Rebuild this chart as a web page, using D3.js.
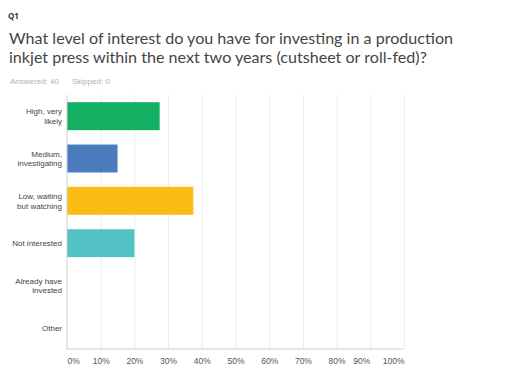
<!DOCTYPE html>
<html>
<head>
<meta charset="utf-8">
<script src="https://cdn.jsdelivr.net/npm/d3@7"></script>
<style>
  body { margin: 0; background: #fff; }
  svg text { font-family: "Liberation Sans", Arial, sans-serif; }
  .grid line { stroke: #ececec; stroke-width: 1px; }
  .grid .domain { display: none; }
  .x-axis .domain, .x-axis line { display: none; }
  .x-axis text { fill: #555; font-size: 8.5px; font-family: "Liberation Sans", Arial, sans-serif; }
</style>
</head>
<body>
<svg id="chart"></svg>
<script>
// data
var categories = ["High, very likely", "Medium, investigating", "Low, waiting but watching",
    "Not interested", "Already have invested", "Other"];
var labelLines = [["High, very", "likely"], ["Medium,", "investigating"], ["Low, waiting", "but watching"],
    ["Not interested"], ["Already have", "invested"], ["Other"]];
var values = [27.5, 15, 37.5, 20, 0, 0];
var colors = ["#13b064", "#4a7bbd", "#fbbd14", "#54c3c8", "#a77fc1", "#f0795b"];
var tickValues = [0, 10, 20, 30, 40, 50, 60, 70, 80, 90, 100];
var titleLines = ["What level of interest do you have for investing in a production",
    "inkjet press within the next two years (cutsheet or roll-fed)?"];

var W = 530, H = 375;
var margin = { left: 67, right: 126, top: 95, bottom: 26 },
    width = W - margin.left - margin.right,
    height = H - margin.top - margin.bottom;

var svg = d3.select("#chart").attr("width", W).attr("height", H);

// header
svg.append("text").attr("x", 8).attr("y", 19)
    .style("font-size", "8px").style("font-weight", "bold").attr("fill", "#333")
    .style("font-family", "'Open Sans', sans-serif")
    .text("Q1");
svg.selectAll(".title").data(titleLines).enter().append("text")
    .attr("class", "title")
    .attr("x", 9).attr("y", function(d, i) { return 44 + i * 19; })
    .style("font-size", "16.1px").attr("fill", "#454545")
    .style("font-family", "Lato, sans-serif")
    .text(function(d) { return d; });
svg.append("text").attr("x", 10).attr("y", 84)
    .style("font-size", "8px").attr("fill", "#b0b0b0")
    .text("Answered: 40");
svg.append("text").attr("x", 72).attr("y", 84)
    .style("font-size", "8px").attr("fill", "#b0b0b0")
    .text("Skipped: 0");

var g = svg.append("g").attr("transform", "translate(" + margin.left + "," + margin.top + ")");

// scales
var x = d3.scaleLinear().domain([0, 100]).range([0, width]);
var y = d3.scaleBand().domain(categories).range([0, height]).paddingInner(0.34).paddingOuter(0.17);

// gridlines
g.append("g").attr("class", "grid")
    .call(d3.axisBottom(x).tickValues(tickValues.slice(1)).tickSize(height).tickFormat(""));

// bars
g.selectAll(".bar").data(values).enter().append("rect")
    .attr("class", "bar")
    .attr("x", 0)
    .attr("y", function(d, i) { return y(categories[i]); })
    .attr("width", function(d) { return x(d); })
    .attr("height", y.bandwidth())
    .attr("fill", function(d, i) { return colors[i]; });

// axis lines
g.append("line").attr("x1", 0).attr("x2", 0).attr("y1", 0).attr("y2", height)
    .attr("stroke", "#cfcfcf");
g.append("line").attr("x1", 0).attr("x2", width).attr("y1", height).attr("y2", height)
    .attr("stroke", "#cfcfcf");

// x axis labels
var xAxis = g.append("g").attr("class", "x-axis")
    .attr("transform", "translate(0," + height + ")")
    .call(d3.axisBottom(x).tickValues(tickValues).tickSize(0).tickPadding(9)
        .tickFormat(function(d) { return d + "%"; }));
xAxis.selectAll("text")
    .attr("text-anchor", function(d) { return d === 0 ? "start" : d === 100 ? "end" : "middle"; })
    .attr("dx", function(d) { return d === 90 ? -9 : 0; });

// category labels
var labels = g.selectAll(".cat").data(labelLines).enter().append("text")
    .attr("class", "cat")
    .attr("text-anchor", "end")
    .style("font-size", "8px").attr("fill", "#444")
    .attr("x", -5)
    .attr("y", function(d, i) {
        return y(categories[i]) + y.bandwidth() / 2 - (d.length - 1) * 4.75 + 3;
    });
labels.selectAll("tspan").data(function(d) { return d; }).enter().append("tspan")
    .attr("x", -5)
    .attr("dy", function(d, i) { return i === 0 ? 0 : 9.5; })
    .text(function(d) { return d; });
</script>
</body>
</html>
